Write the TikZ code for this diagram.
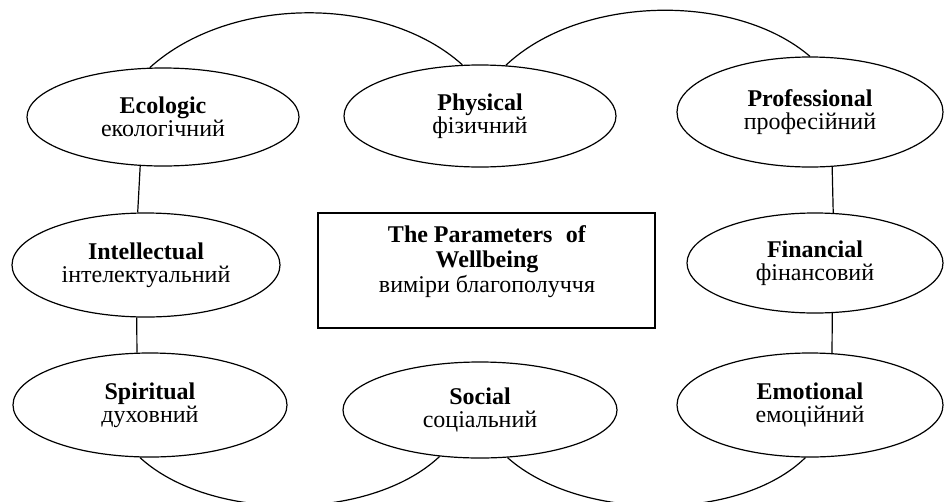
\documentclass[tikz,border=0pt]{standalone}
\usepackage{fontspec}
\setmainfont{Liberation Serif}
\usetikzlibrary{shapes.geometric}
\begin{document}
\begin{tikzpicture}[x=1pt,y=-1pt,
  param/.style={draw, ellipse, line width=1.2pt, inner sep=0pt, align=center,
    font=\fontsize{24}{23}\selectfont},
  link/.style={line width=1.2pt},
  txt/.style={align=center, font=\fontsize{24}{25}\selectfont}]
\useasboundingbox (0,0) rectangle (944,501);
\fill[white] (0,0) rectangle (944,501);

% the eight parameters
\node[param, minimum width=272pt, minimum height=98pt]  (eco) at (163,117) {\textbf{Ecologic}\\екологічний};
\node[param, minimum width=272pt, minimum height=102pt] (phy) at (480,116) {\textbf{Physical}\\фізичний};
\node[param, minimum width=266pt, minimum height=110pt] (pro) at (810,112) {\textbf{Professional}\\професійний};
\node[param, minimum width=268pt, minimum height=104pt] (int) at (146,265) {\textbf{Intellectual}\\інтелектуальний};
\node[param, minimum width=256pt, minimum height=100pt] (fin) at (815,263) {\textbf{Financial}\\фінансовий};
\node[param, minimum width=274pt, minimum height=104pt] (spi) at (150,405) {\textbf{Spiritual}\\духовний};
\node[param, minimum width=274pt, minimum height=96pt]  (soc) at (480,410) {\textbf{Social}\\соціальний};
\node[param, minimum width=266pt, minimum height=104pt] (emo) at (810,405) {\textbf{Emotional}\\емоційний};

% central frame and its title
\node[draw, line width=1.1pt, minimum width=337pt, minimum height=115pt, inner sep=0pt] (frame) at (486.5,270.5) {};
\node[txt] (title) at (487,262) {\textbf{The Parameters\hspace{0.3em} of}\\\textbf{Wellbeing}\\виміри благополуччя};

% vertical links
\draw[link] (eco.245) -- (int.99);
\draw[link] (int.260) -- (spi.104);
\draw[link] (pro.292) -- (fin.70);
\draw[link] (fin.289) -- (emo.67);

% arcs over the top row
\draw[link] (eco.105) .. controls (230,-5) and (385,-5) .. (phy.109);
\draw[link] (phy.63) .. controls (580,-5) and (735,-8) .. (pro.north);

% arcs under the bottom row
\draw[link] (spi.259) .. controls (210,522) and (370,522) .. (soc.229);
\draw[link] (soc.300) .. controls (580,522) and (740,522) .. (emo.265);
\end{tikzpicture}
\end{document}
